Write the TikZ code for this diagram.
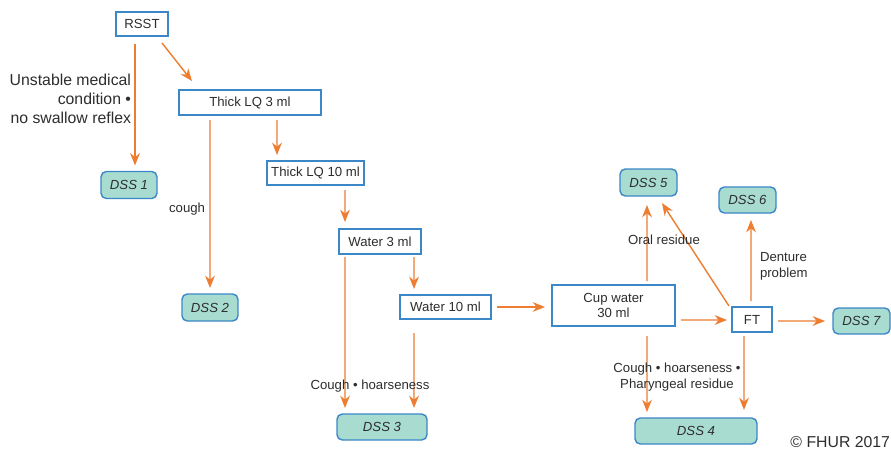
\documentclass[tikz,border=0pt]{standalone}
\usepackage{fontspec}
\setmainfont{Liberation Sans}
\usepackage{tikz}
\usetikzlibrary{arrows.meta}
\usetikzlibrary{calc}
\definecolor{linecol}{RGB}{237,125,49}
\definecolor{boxcol}{RGB}{59,135,199}
\definecolor{dsscol}{RGB}{168,220,209}
\definecolor{txtcol}{RGB}{45,45,45}

\begin{document}
\begin{tikzpicture}[x=0.02cm, y=-0.02cm,
	every node/.style={text=txtcol, font=\fontsize{7.5}{9}\selectfont, inner sep=0pt, outer sep=0pt},
	box/.style={draw=boxcol, line width=0.8pt, align=center},
	dss/.style={draw=boxcol, fill=dsscol, line width=0.8pt, rounded corners=3pt, font=\fontsize{7.5}{9}\selectfont\itshape},
	arr/.style={draw=linecol, line width=0.8pt, -{Stealth[length=7pt, width=5.5pt, inset=2.2pt]}},
	lbl/.style={align=center}]
	\useasboundingbox (0,0) rectangle (891,453);
	% boxes
	\node [box, minimum width=1.04cm, minimum height=0.48cm] (rsst) at (142,24) {RSST};
	\node [box, minimum width=2.84cm, minimum height=0.5cm] (thickthree) at (250,102.5) {Thick LQ 3 ml};
	\node [box, minimum width=1.94cm, minimum height=0.48cm] (thickten) at (315.5,173) {Thick LQ 10 ml};
	\node [box, minimum width=1.64cm, minimum height=0.5cm] (wthree) at (380,241.5) {Water 3 ml};
	\node [box, minimum width=1.82cm, minimum height=0.48cm] (wten) at (445.5,307) {Water 10 ml};
	\node [box, minimum width=2.46cm, minimum height=0.82cm] (cup) at (613.5,305.5) {Cup water\\30 ml};
	\node [box, minimum width=0.8cm, minimum height=0.5cm] (ft) at (752,319.5) {FT};
	% outcomes
	\node [dss, minimum width=1.12cm, minimum height=0.54cm] (dssone) at (129,185) {DSS 1};
	\node [dss, minimum width=1.12cm, minimum height=0.54cm] (dsstwo) at (210,307.5) {DSS 2};
	\node [dss, minimum width=1.8cm, minimum height=0.52cm] (dssthree) at (382,427) {DSS 3};
	\node [dss, minimum width=2.44cm, minimum height=0.52cm] (dssfour) at (696,431) {DSS 4};
	\node [dss, minimum width=1.14cm, minimum height=0.54cm] (dssfive) at (648.5,182.5) {DSS 5};
	\node [dss, minimum width=1.14cm, minimum height=0.52cm] (dsssix) at (747.5,200) {DSS 6};
	\node [dss, minimum width=1.14cm, minimum height=0.52cm] (dssseven) at (861.5,321) {DSS 7};
	% connectors
	\draw [arr] ([shift={(-7,8)}]rsst.south) -- ([shift={(6,-6)}]dssone.north);
	\draw [arr] ([shift={(-6,7)}]rsst.south east) -- ([shift={(13,-9)}]thickthree.north west);
	\draw [arr] ([shift={(31,5)}]thickthree.south west) -- ([shift={(0,-6)}]dsstwo.north);
	\draw [arr] ([shift={(27,5)}]thickthree.south) -- ([shift={(10,-6)}]thickten.north west);
	\draw [arr] ([shift={(29.5,5)}]thickten.south) -- ([shift={(6,-7)}]wthree.north west);
	\draw [arr] ([shift={(6,3)}]wthree.south west) -- ([shift={(8,-6)}]dssthree.north west);
	\draw [arr] ([shift={(-7,3)}]wthree.south east) -- ([shift={(14,-6)}]wten.north west);
	\draw [arr] ([shift={(14,14)}]wten.south west) -- ([shift={(-13,-6)}]dssthree.north east);
	\draw [arr] ([shift={(6,0)}]wten.east) -- ([shift={(-7,0)}]wten.east -| cup.west);
	\draw [arr] ([shift={(33.5,-4)}]cup.north) -- ([shift={(-1.5,9)}]dssfive.south);
	\draw [arr] ([shift={(33.5,10)}]cup.south) -- ([shift={(12,-6)}]dssfour.north west);
	\draw [arr] ([shift={(6,-6)}]cup.south east) -- ([shift={(-5,0.5)}]ft.west);
	\draw [arr] ([shift={(-3,-1)}]ft.north west) -- ([shift={(-15,7)}]dssfive.south east);
	\draw [arr] ([shift={(-1,-6)}]ft.north) -- ([shift={(3.5,7)}]dsssix.south);
	\draw [arr] ([shift={(-8,4)}]ft.south) -- ([shift={(-13,-8)}]dssfour.north east);
	\draw [arr] ([shift={(6,1.5)}]ft.east) -- ([shift={(-8,0)}]dssseven.west);
	% labels
	\node [align=right, anchor=east, font=\fontsize{9}{10.8}\selectfont] (unstable) at (131,99) {Unstable medical\\condition \textbullet\\no swallow reflex};
	\node [anchor=east] (cough) at (205,209) {cough};
	\node [lbl] (coughhoarse) at (370,386) {Cough \textbullet\ hoarseness};
	\node [lbl] (oral) at (664,240) {Oral residue};
	\node [align=left, anchor=west] (denture) at (760,266) {Denture\\problem};
	\node [lbl] (pharyngeal) at (677,377) {Cough \textbullet\ hoarseness \textbullet\\Pharyngeal residue};
	\node [anchor=east, font=\fontsize{9}{10.8}\selectfont] (copy) at (890,442) {\textcopyright\ FHUR 2017};
\end{tikzpicture}
\end{document}
